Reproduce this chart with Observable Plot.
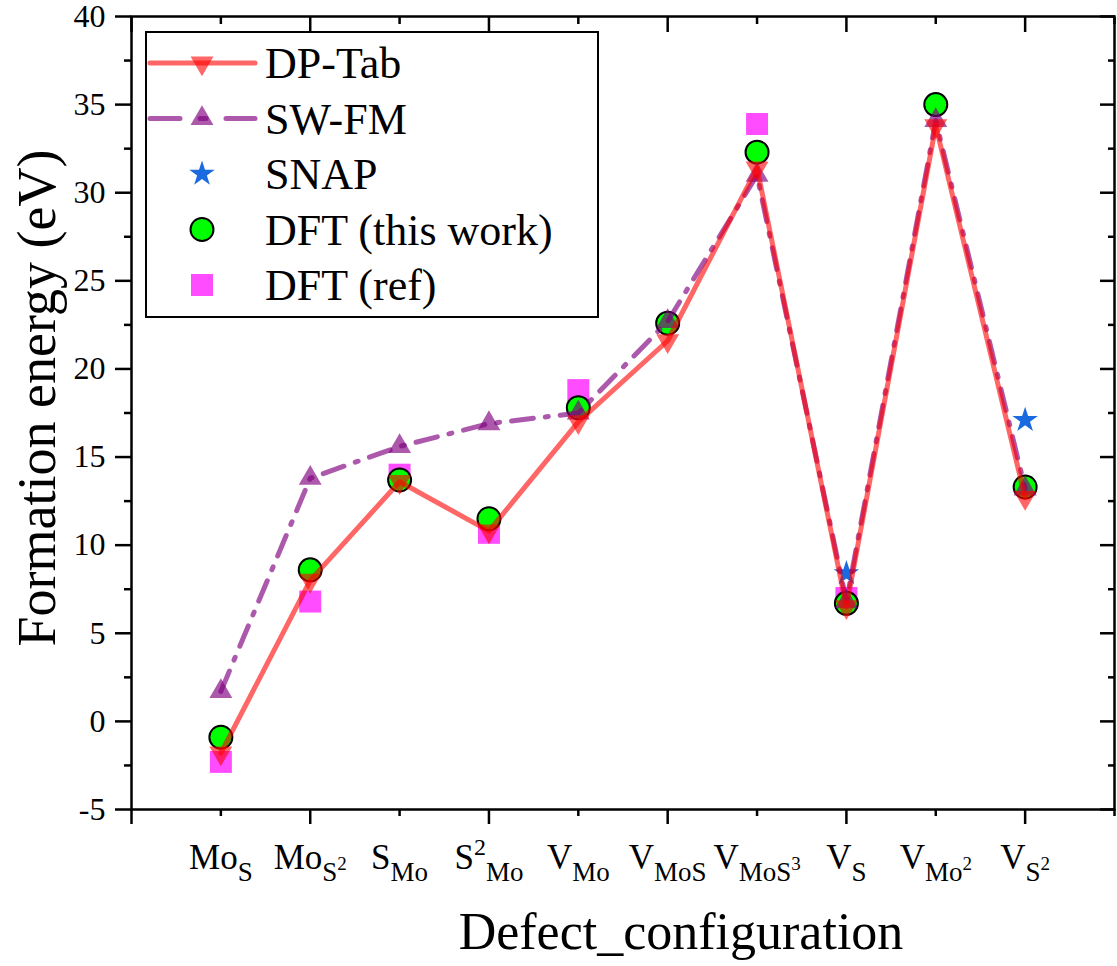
<!DOCTYPE html>
<html><head><meta charset="utf-8">
<script src="https://cdn.jsdelivr.net/npm/d3@7"></script>
<script src="https://cdn.jsdelivr.net/npm/@observablehq/plot@0.6"></script>
<style>
body{margin:0;background:#fff;}
#wrap{position:relative;width:1117px;height:966px;font-family:"Liberation Serif","Times New Roman",serif;}
#legend{position:absolute;left:145px;top:31px;width:454px;height:287px;box-sizing:border-box;border:2px solid #000;background:#fff;}
#legend svg{position:absolute;left:0;top:0;}
</style></head><body><div id="wrap"><div id="legend"></div></div>
<script>
// ---- data ----
const categories = ["MoS","MoS2","SMo","S2Mo","VMo","VMoS","VMoS3","VS","VMo2","VS2"];
const tickLabelParts = [
  [["Mo","main"],["S","sub"]],
  [["Mo","main"],["S","sub"],["2","subsup"]],
  [["S","main"],["Mo","sub"]],
  [["S","main"],["2","sup"],["Mo","sub"]],
  [["V","main"],["Mo","sub"]],
  [["V","main"],["MoS","sub"]],
  [["V","main"],["MoS","sub"],["3","subsup"]],
  [["V","main"],["S","sub"]],
  [["V","main"],["Mo","sub"],["2","subsup"]],
  [["V","main"],["S","sub"],["2","subsup"]]
];
const dpTab   = [-1.8, 8.0, 13.6, 10.8, 17.0, 21.6, 31.4, 6.5, 33.8, 12.7];
const swFm    = [1.7, 13.8, 15.6, 16.9, 17.5, 22.7, 31.0, 6.8, 34.1, 13.2];
const snap    = [null, null, null, null, null, null, null, 8.4, null, 17.1];
const dftThis = [-0.9, 8.6, 13.7, 11.5, 17.8, 22.6, 32.3, 6.7, 35.0, 13.3];
const dftRef  = [-2.3, 6.8, 14.0, 10.7, 18.8, null, 33.9, 7.0, null, null];
const yTicks = [-5, 0, 5, 10, 15, 20, 25, 30, 35, 40];
const yMinorTicks = [-2.5, 2.5, 7.5, 12.5, 17.5, 22.5, 27.5, 32.5, 37.5];
const xMajorTicks = [0, 2, 4, 6, 8, 10];
const xMinorTicks = [1, 3, 5, 7, 9, 11];
const legendNames = ["DP-Tab", "SW-FM", "SNAP", "DFT (this work)", "DFT (ref)"];
const yTitle = "Formation energy (eV)";
const xTitle = "Defect_configuration";

// ---- styles ----
const FONT = '"Liberation Serif","Times New Roman",serif';
const RED = "#ff0000", PURPLE = "#800080", BLUE = "#1a6ae0", GREEN = "#00ff00", MAGENTA = "#ff00ff";
const sqrt3 = Math.sqrt(3);
const triangleDown = {
  draw(context, size) {
    const y = -Math.sqrt(size / (sqrt3 * 3));
    context.moveTo(0, -y * 2);
    context.lineTo(-sqrt3 * y, y);
    context.lineTo(sqrt3 * y, y);
    context.closePath();
  }
};

const rows = categories.map((c, i) => ({
  cat: c, x: i + 1, dp: dpTab[i], sw: swFm[i], snap: snap[i], dft: dftThis[i], ref: dftRef[i]
}));
const noLabel = () => "";

const plot = Plot.plot({
  width: 1117, height: 966,
  marginLeft: 131, marginRight: 3, marginTop: 16, marginBottom: 157,
  style: {fontFamily: FONT, background: "white", color: "black", overflow: "visible"},
  x: {domain: [0, 11], axis: null},
  y: {domain: [-5, 40], axis: null},
  marks: [
    Plot.dot(rows.filter(d => d.ref != null), {x: "x", y: "ref", symbol: "square", r: 12.4, fill: MAGENTA, fillOpacity: 0.7}),
    Plot.dot(rows, {x: "x", y: "dft", r: 11.5, fill: GREEN, stroke: "black", strokeWidth: 2}),
    Plot.dot(rows.filter(d => d.snap != null), {x: "x", y: "snap", symbol: "star", r: 8, fill: BLUE}),
    Plot.line(rows, {x: "x", y: "sw", stroke: PURPLE, strokeOpacity: 0.65, strokeWidth: 5, strokeDasharray: "22,12,3,12", strokeLinecap: "round"}),
    Plot.dot(rows, {x: "x", y: "sw", symbol: "triangle", r: 8.5, fill: PURPLE, fillOpacity: 0.65}),
    Plot.line(rows, {x: "x", y: "dp", stroke: RED, strokeOpacity: 0.6, strokeWidth: 5}),
    Plot.dot(rows, {x: "x", y: "dp", symbol: triangleDown, r: 8.5, fill: RED, fillOpacity: 0.6}),
    // axes
    Plot.axisY({anchor: "left", ticks: yTicks, tickSize: 16, tickPadding: 10, fontSize: 32, strokeWidth: 2.5, tickFormat: d => String(d), label: null}),
    Plot.axisY({anchor: "left", ticks: yMinorTicks, tickSize: 7, strokeWidth: 2.5, tickFormat: noLabel, label: null}),
    Plot.axisY({anchor: "right", ticks: yTicks, tickSize: -15, strokeWidth: 2.5, tickFormat: noLabel, label: null}),
    Plot.axisY({anchor: "right", ticks: yMinorTicks, tickSize: -7, strokeWidth: 2.5, tickFormat: noLabel, label: null}),
    Plot.axisX({anchor: "bottom", ticks: xMajorTicks, tickSize: 15, strokeWidth: 2.5, tickFormat: noLabel, label: null}),
    Plot.axisX({anchor: "bottom", ticks: xMinorTicks, tickSize: 7, strokeWidth: 2.5, tickFormat: noLabel, label: null}),
    Plot.axisX({anchor: "top", ticks: xMajorTicks, tickSize: -15, strokeWidth: 2.5, tickFormat: noLabel, label: null}),
    Plot.axisX({anchor: "top", ticks: xMinorTicks, tickSize: -7, strokeWidth: 2.5, tickFormat: noLabel, label: null}),
    Plot.axisX({anchor: "bottom", ticks: rows.map(d => d.x), tickSize: 0, tickPadding: 35, fontSize: 35, tickFormat: d => "L" + d, label: null}),
    Plot.frame({stroke: "black", strokeWidth: 2.5}),
    Plot.text([yTitle], {text: d => d, frameAnchor: "left", textAnchor: "middle", rotate: -90, dx: -94, dy: -15, fontSize: 54, fill: "black"}),
    Plot.text([xTitle], {text: d => d, frameAnchor: "bottom", textAnchor: "middle", dx: 58, dy: 139, fontSize: 52, fill: "black"})
  ]
});
document.getElementById("wrap").prepend(plot);

// rich tick labels (sub/superscripts)
const partStyle = {main: {size: 35, off: 0}, sub: {size: 27, off: 12}, sup: {size: 24, off: -14}, subsup: {size: 19, off: 1}};
d3.select(plot).selectAll("text").each(function() {
  const t = this.textContent;
  if (!/^L\d+$/.test(t)) return;
  const idx = +t.slice(1) - 1;
  const parts = tickLabelParts[idx];
  const sel = d3.select(this);
  sel.text(null);
  let cur = 0;
  for (const [txt, kind] of parts) {
    const st = partStyle[kind];
    sel.append("tspan").attr("font-size", st.size).attr("dy", st.off - cur).text(txt);
    cur = st.off;
  }
});

// legend
const lg = d3.select("#legend").append("svg").attr("width", 450).attr("height", 283);
const rowY = [30, 85.5, 141, 196.5, 252];
const sym = (s, r) => d3.symbol(s, r * r * Math.PI)();
// DP-Tab
lg.append("line").attr("x1", 3).attr("x2", 108).attr("y1", rowY[0]).attr("y2", rowY[0])
  .attr("stroke", RED).attr("stroke-opacity", 0.6).attr("stroke-width", 5).attr("stroke-linecap", "round");
lg.append("path").attr("d", sym(triangleDown, 8.5)).attr("transform", `translate(55,${rowY[0]})`).attr("fill", RED).attr("fill-opacity", 0.6);
// SW-FM
lg.append("line").attr("x1", 3).attr("x2", 108).attr("y1", rowY[1]).attr("y2", rowY[1])
  .attr("stroke", PURPLE).attr("stroke-opacity", 0.65).attr("stroke-width", 5).attr("stroke-linecap", "round")
  .attr("stroke-dasharray", "30,20,6,20");
lg.append("path").attr("d", sym(d3.symbolTriangle, 8.5)).attr("transform", `translate(55,${rowY[1]})`).attr("fill", PURPLE).attr("fill-opacity", 0.65);
// SNAP
lg.append("path").attr("d", sym(d3.symbolStar, 8)).attr("transform", `translate(55,${rowY[2]})`).attr("fill", BLUE);
// DFT this work
lg.append("circle").attr("cx", 55).attr("cy", rowY[3]).attr("r", 11.5).attr("fill", GREEN).attr("stroke", "black").attr("stroke-width", 2);
// DFT ref
lg.append("path").attr("d", sym(d3.symbolSquare, 12.4)).attr("transform", `translate(55,${rowY[4]})`).attr("fill", MAGENTA).attr("fill-opacity", 0.7);
lg.selectAll("text.lbl").data(legendNames).join("text").attr("class", "lbl")
  .attr("x", 118).attr("y", (d, i) => rowY[i]).attr("dy", "0.35em")
  .attr("font-family", FONT).attr("font-size", 44).attr("fill", "black").text(d => d);
</script>
</body></html>
